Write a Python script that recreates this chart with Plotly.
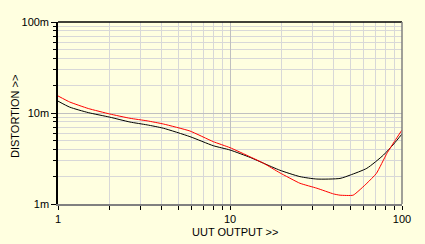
import plotly.graph_objects as go

x_black = [1, 1.17, 1.5, 2, 2.62, 3.3, 4.1, 5.85, 8, 10, 13.1, 15.7, 19.5, 25.5, 32, 43.6, 50, 62.5, 78, 89.5, 100]
y_black = [13.5, 11.6, 10.1, 9.0, 7.96, 7.4, 6.8, 5.5, 4.37, 3.92, 3.25, 2.8, 2.35, 2.0, 1.88, 1.91, 2.08, 2.47, 3.45, 4.56, 5.88]
x_red = [1, 1.17, 1.5, 2, 2.62, 3.3, 4.1, 5.85, 8, 10, 13.1, 15.7, 19.5, 25.5, 32, 40, 43.6, 52, 62.5, 71, 81.7, 91, 100]
y_red = [15.4, 13.2, 11.2, 9.75, 8.75, 8.2, 7.57, 6.34, 4.84, 4.16, 3.3, 2.8, 2.2, 1.69, 1.49, 1.29, 1.25, 1.25, 1.69, 2.17, 3.6, 4.97, 6.5]
x_ticks = [1, 10, 100]
x_ticktext = ["1", "10", "100"]
y_ticks = [1, 10, 100]
y_ticktext = ["1m", "10m", "100m"]
x_title = "UUT OUTPUT >>"
y_title = "DISTORTION >>"

bg = "#FFFFE0"
font = dict(family="Liberation Sans, Arial, sans-serif", size=11, color="black")

fig = go.Figure()
fig.add_trace(go.Scatter(x=x_black, y=y_black, mode="lines", line=dict(color="black", width=1, shape="spline", smoothing=0.6)))
fig.add_trace(go.Scatter(x=x_red, y=y_red, mode="lines", line=dict(color="red", width=1, shape="spline", smoothing=0.4)))

fig.update_layout(
    width=425, height=244, showlegend=False,
    paper_bgcolor=bg, plot_bgcolor=bg, font=font,
    margin=dict(l=58, r=23, t=22, b=40),
    xaxis=dict(type="log", range=[0, 2], tickvals=x_ticks, ticktext=x_ticktext,
               showgrid=True, gridcolor="#C0C0C0", gridwidth=1,
               ticks="outside", ticklen=4, tickcolor="black",
               showline=True, linecolor="#808080", linewidth=1.5,
               minor=dict(dtick="D1", showgrid=True, gridcolor="#D8D8D8", ticks="outside", ticklen=4, tickcolor="black"),
               zeroline=False, automargin=False),
    yaxis=dict(type="log", range=[0, 2], tickvals=y_ticks, ticktext=y_ticktext,
               showgrid=True, gridcolor="#C0C0C0", gridwidth=1,
               ticks="outside", ticklen=5, tickcolor="black",
               showline=True, linecolor="black", linewidth=1.5,
               minor=dict(dtick="D1", showgrid=True, gridcolor="#D8D8D8", ticks="outside", ticklen=3, tickcolor="black"),
               zeroline=False, automargin=False),
    shapes=[
        dict(type="line", xref="paper", yref="paper", x0=0, x1=1, y0=1, y1=1, line=dict(color="black", width=1.5)),
        dict(type="line", xref="paper", yref="paper", x0=1, x1=1, y0=0, y1=1, line=dict(color="#808080", width=1.5)),
    ],
    annotations=[
        dict(text=x_title, xref="paper", yref="paper", x=(234.5 - 58) / 344, y=-(232 - 204) / 182,
             xanchor="center", yanchor="middle", showarrow=False, font=font),
        dict(text=y_title, xref="paper", yref="paper", x=-(58 - 15) / 344, y=(204 - 117) / 182,
             xanchor="center", yanchor="middle", textangle=-90, showarrow=False, font=font),
    ],
)
fig.write_html("out.html")
